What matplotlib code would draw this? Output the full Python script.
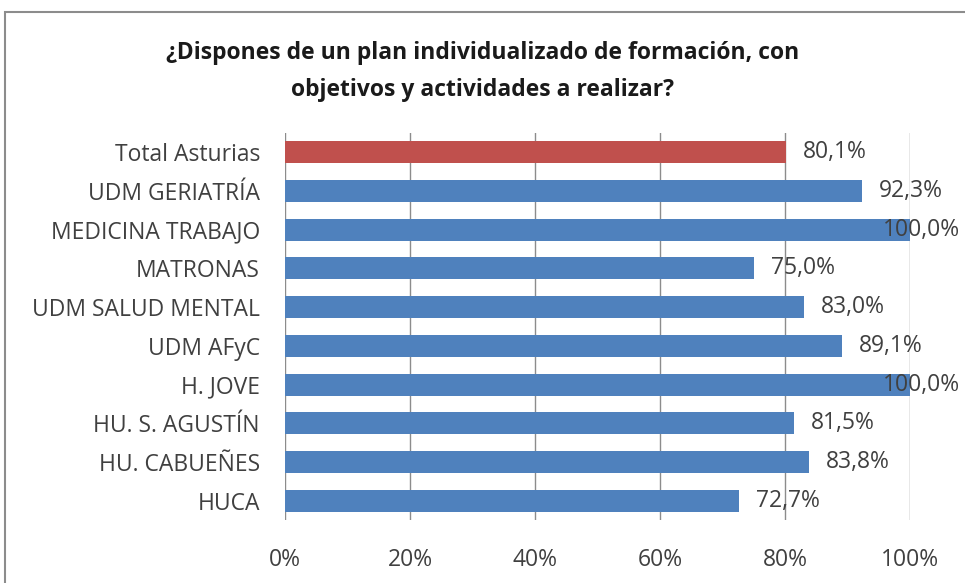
import matplotlib.pyplot as plt
from matplotlib.patches import Rectangle

# datos (de abajo hacia arriba)
categorias = ["HUCA", "HU. CABUEÑES", "HU. S. AGUSTÍN", "H. JOVE", "UDM AFyC",
              "UDM SALUD MENTAL", "MATRONAS", "MEDICINA TRABAJO", "UDM GERIATRÍA",
              "Total Asturias"]
valores = [72.7, 83.8, 81.5, 100.0, 89.1, 83.0, 75.0, 100.0, 92.3, 80.1]
colores = ["#4F81BD"] * 9 + ["#C0504D"]
ticks = [0, 20, 40, 60, 80, 100]
titulo = "¿Dispones de un plan individualizado de formación, con\nobjetivos y actividades a realizar?"

plt.rcParams["font.family"] = ["Open Sans", "DejaVu Sans"]

fig = plt.figure(figsize=(9.65, 5.83), dpi=100)
ax = fig.add_axes([0.2953, 0.108, 0.6477, 0.664])

# marco gris del gráfico
fig.patches.append(Rectangle((5 / 965, -0.1), 1.2, 1 - 12 / 583 + 0.1,
                             transform=fig.transFigure, fill=False,
                             edgecolor="#8C8C8C", linewidth=1.5))

y = list(range(len(categorias)))
ax.barh(y, valores, height=0.57, color=colores, zorder=2)

for yi, v in zip(y, valores):
    xl = min(v + 2.7, 95.7)
    ax.text(xl, yi, f"{v:.1f}%".replace(".", ","), va="center", ha="left",
            fontsize=16.5, color="#404040", zorder=3)

ax.set_xlim(0, 100)
ax.set_ylim(-0.5, len(categorias) - 0.5)
ax.set_xticks(ticks)
ax.set_xticklabels([f"{t}%" for t in ticks], fontsize=16.5, color="#404040")
ax.set_yticks(y)
ax.set_yticklabels(categorias, fontsize=16.5, color="#404040")
ax.tick_params(axis="both", length=0)
ax.tick_params(axis="x", pad=20)
ax.tick_params(axis="y", pad=18)
ax.grid(axis="x", color="#8C8C8C", linewidth=1, zorder=1)
for s in ax.spines.values():
    s.set_visible(False)

fig.text(0.5, 0.825, titulo, ha="center", va="bottom", fontsize=16.5,
         fontweight="bold", color="#1A1A1A", linespacing=1.75)

fig.savefig("out.png", dpi=100)
